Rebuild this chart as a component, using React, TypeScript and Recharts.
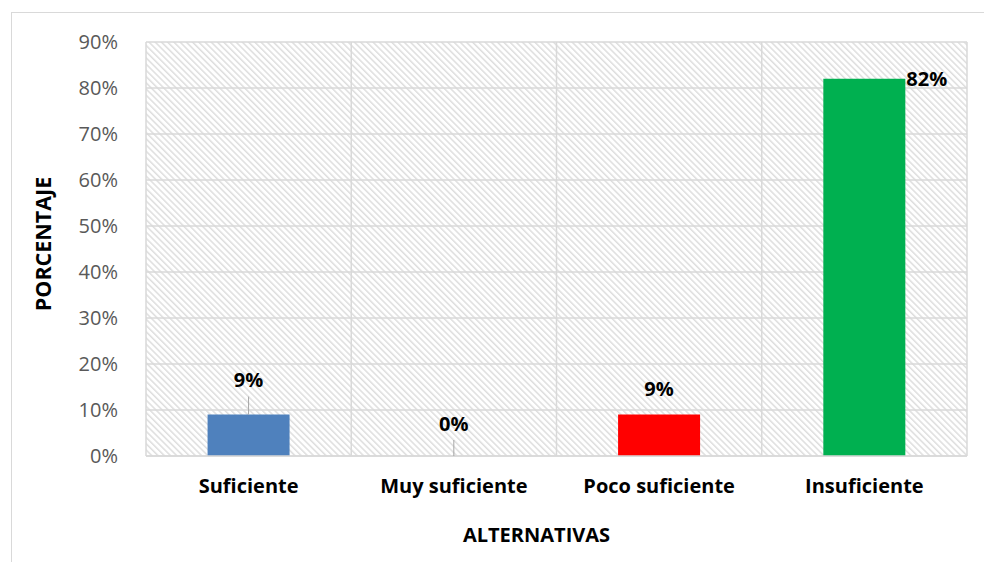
import { BarChart, Bar, XAxis, YAxis, CartesianGrid, Cell, LabelList, Label } from 'recharts';

const categories = ['Suficiente', 'Muy suficiente', 'Poco suficiente', 'Insuficiente'];
const values = [9, 0, 9, 82];
const yTicks = [0, 10, 20, 30, 40, 50, 60, 70, 80, 90];
const barColors = ['#4F81BD', 'transparent', '#FF0000', '#00B050'];

const data = categories.map((name, i) => ({ name, value: values[i] }));

const FONT = '"Open Sans", Lato, sans-serif';

// per-bar label placement, mimics the Excel chart where labels were dragged
const labelStyle: Record<string, any> = {
  'Suficiente': { dy: -35, line: [-18, 0] },
  'Muy suficiente': { dy: -32, line: [-15, 1] },
  'Poco suficiente': { dy: -26, line: null },
  'Insuficiente': { dy: 0, line: null, right: true },
};

function BarLabel(props: any) {
  const { x, y, width, value } = props;
  const s = labelStyle[value];
  const v = values[categories.indexOf(value)];
  const cx = x + width / 2;
  if (s.right) {
    return (
      <text x={x + width + 1} y={y + s.dy} dominantBaseline="central" textAnchor="start"
        fontFamily={FONT} fontWeight={700} fontSize={20} fill="#000">
        {`${v}%`}
      </text>
    );
  }
  return (
    <g>
      {s.line && (
        <line x1={cx} x2={cx} y1={y + s.line[0]} y2={y + s.line[1]} stroke="#A6A6A6" strokeWidth={1} />
      )}
      <text x={cx} y={y + s.dy} dominantBaseline="central" textAnchor="middle"
        fontFamily={FONT} fontWeight={700} fontSize={20} fill="#000">
        {`${v}%`}
      </text>
    </g>
  );
}

export default function App() {
  return (
    <div style={{ position: 'absolute', left: 0, top: 0, width: 984, height: 562, background: '#fff', overflow: 'hidden' }}>
      <div style={{ position: 'absolute', left: 11, top: 12, width: 1000, height: 600, border: '1px solid #D9D9D9' }} />
      <div style={{ position: 'absolute', left: 0, top: 0 }}>
        <BarChart width={984} height={562} data={data} barCategoryGap="30%"
          margin={{ top: 42, right: 17, left: 86, bottom: 76 }}>
          <defs>
            <pattern id="hatch" patternUnits="userSpaceOnUse" width={4.4} height={4.4} patternTransform="rotate(-45)">
              <rect width={4.4} height={4.4} fill="#fff" />
              <rect x={0} y={0} width={1.5} height={4.4} fill="#DEDEDE" />
            </pattern>
          </defs>
          <CartesianGrid stroke="#D9D9D9" strokeWidth={1.5} fill="url(#hatch)" fillOpacity={1}
            verticalCoordinatesGenerator={({ offset }: any) =>
              [0, 1, 2, 3, 4].map((i) => offset.left + (i * offset.width) / 4)} />
          <XAxis dataKey="name" tickLine={false} axisLine={{ stroke: '#D9D9D9', strokeWidth: 1.5 }} height={30}
            tick={{ fontFamily: FONT, fontSize: 20, fontWeight: 700, fill: '#000' }} tickMargin={17}>
            <Label value="ALTERNATIVAS" position="insideBottom" offset={-56} dx={-20}
              style={{ fontFamily: FONT, fontSize: 20, fontWeight: 700, fill: '#000' }} />
          </XAxis>
          <YAxis domain={[0, 90]} ticks={yTicks} interval={0} tickLine={false} axisLine={false} width={60}
            tickFormatter={(v: number) => `${v}%`} tickMargin={22}
            tick={{ fontFamily: FONT, fontSize: 20, fill: '#595959' }}>
            <Label value="PORCENTAJE" angle={-90} position="insideLeft" offset={-43} dy={-5}
              style={{ fontFamily: FONT, fontSize: 21.5, fontWeight: 700, fill: '#000', textAnchor: 'middle' }} />
          </YAxis>
          <Bar dataKey="value" isAnimationActive={false} minPointSize={1}>
            {data.map((d, i) => (
              <Cell key={d.name} fill={barColors[i]} />
            ))}
            <LabelList dataKey="name" content={<BarLabel />} />
          </Bar>
        </BarChart>
      </div>
    </div>
  );
}
